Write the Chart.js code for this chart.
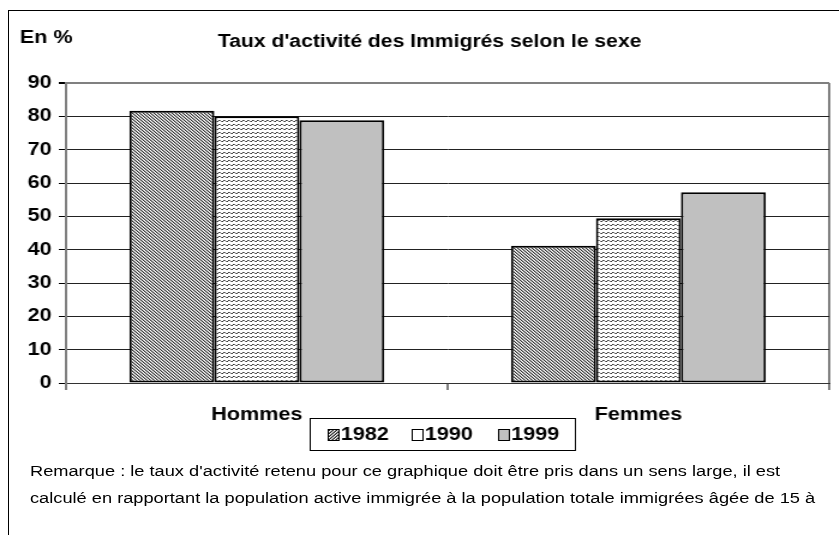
<!DOCTYPE html>
<html>
<head>
<meta charset="utf-8">
<script src="https://cdn.jsdelivr.net/npm/chart.js@4.4.1/dist/chart.umd.min.js"></script>
<style>
  html, body { margin: 0; padding: 0; background: #fff; }
  body { width: 839px; height: 535px; position: relative; overflow: hidden; font-family: "Liberation Sans", Arial, sans-serif; }
  #frame { position: absolute; left: 8px; top: 10px; width: 900px; height: 600px; border-left: 1px solid #000; border-top: 1px solid #000; }
  /* the source picture is stretched sideways, so the chart is drawn narrow and widened */
  #wrap { position: absolute; left: 0; top: 0; width: 699px; height: 535px; transform: scaleX(1.2); transform-origin: 0 0; }
  .note { position: absolute; left: 30px; font-size: 15.2px; white-space: nowrap; color: #000; transform: scaleX(1.2); transform-origin: 0 0; }
</style>
</head>
<body>
<div id="frame"></div>
<div id="wrap"><canvas id="chart" width="699" height="535"></canvas></div>
<div class="note" style="top: 462px;">Remarque : le taux d'activité retenu pour ce graphique doit être pris dans un sens large, il est</div>
<div class="note" style="top: 489px;">calculé en rapportant la population active immigrée à la population totale immigrées âgée de 15 à</div>
<script>
const categories = ['Hommes', 'Femmes'];
const years = ['1982', '1990', '1999'];
const values1982 = [81.7, 41.2];
const values1990 = [80.0, 49.4];
const values1999 = [78.8, 57.2];
const yTicks = [0, 10, 20, 30, 40, 50, 60, 70, 80, 90];

const FONT = '"Liberation Sans", Arial, sans-serif';

// little pixel tiles to mimic the old office hatch fills
const makePattern = (w, h, pixels) => {
  const c = document.createElement('canvas');
  c.width = w;
  c.height = h;
  const g = c.getContext('2d');
  g.fillStyle = '#fff';
  g.fillRect(0, 0, w, h);
  pixels.forEach(([x, y, col]) => {
    g.fillStyle = col;
    g.fillRect(x, y, 1, 1);
  });
  return document.getElementById('chart').getContext('2d').createPattern(c, 'repeat');
};

const hatch1982 = makePattern(3, 3, [
  [0, 0, '#333'], [1, 0, '#aaa'],
  [1, 1, '#333'], [2, 1, '#aaa'],
  [2, 2, '#333'], [0, 2, '#aaa'],
]);
const hatch1990 = makePattern(4, 4, [
  [2, 0, '#333'], [3, 0, '#777'],
  [0, 1, '#777'], [1, 1, '#333'],
]);
const hatchLegend = makePattern(3, 3, [
  [2, 0, '#222'], [1, 0, '#888'],
  [1, 1, '#222'], [0, 1, '#888'],
  [0, 2, '#222'], [2, 2, '#888'],
]);
const fills = [hatch1982, hatch1990, '#c0c0c0'];
const legendFills = [hatchLegend, '#fff', '#c0c0c0'];

const legendBox = {
  id: 'legendBox',
  afterDraw(chart) {
    const ctx = chart.ctx;
    ctx.save();
    ctx.strokeStyle = '#000';
    ctx.lineWidth = 1;
    ctx.strokeRect(258.5, 418.5, 221, 32);
    ctx.font = 'bold 18px ' + FONT;
    ctx.textBaseline = 'middle';
    const xs = [273, 343, 415];
    chart.data.datasets.forEach((ds, i) => {
      ctx.fillStyle = legendFills[i];
      ctx.fillRect(xs[i], 429, 9, 11);
      ctx.strokeStyle = '#000';
      ctx.strokeRect(xs[i] + 0.5, 429.5, 9, 11);
      ctx.fillStyle = '#000';
      ctx.fillText(ds.label, xs[i] + 11, 435);
    });
    ctx.restore();
  }
};

const titles = {
  id: 'titles',
  afterDraw(chart) {
    const ctx = chart.ctx;
    ctx.save();
    ctx.fillStyle = '#000';
    ctx.font = 'bold 18px ' + FONT;
    ctx.textBaseline = 'middle';
    ctx.fillText('En %', 16.5, 38);
    ctx.font = 'bold 17.6px ' + FONT;
    ctx.textAlign = 'center';
    ctx.fillText("Taux d'activité des Immigrés selon le sexe", 358, 42);
    ctx.restore();
  }
};

const ctx = document.getElementById('chart').getContext('2d');

// eslint-disable-next-line no-undef
new Chart(ctx, {
  type: 'bar',
  data: {
    labels: categories,
    datasets: [
      { label: years[0], data: values1982, backgroundColor: fills[0] },
      { label: years[1], data: values1990, backgroundColor: fills[1] },
      { label: years[2], data: values1999, backgroundColor: fills[2] },
    ].map(ds => Object.assign(ds, {
      borderColor: '#000',
      borderWidth: 2,
      borderSkipped: false,
      categoryPercentage: 0.668,
      barPercentage: 1,
    })),
  },
  options: {
    responsive: false,
    animation: false,
    layout: { padding: { top: 83, right: 8, bottom: 112, left: 0 } },
    plugins: { legend: { display: false }, title: { display: false }, tooltip: { enabled: false } },
    scales: {
      x: {
        grid: {
          offset: true,
          lineWidth: 2,
          color: c => (c.index === 1 ? 'rgba(0,0,0,0)' : '#808080'),
          tickColor: '#000',
          tickLength: 7,
          tickWidth: 1,
        },
        border: { display: true, color: '#333', width: 1 },
        ticks: { color: '#000', font: { family: FONT, size: 18, weight: 'bold' }, padding: 14 },
        afterFit: s => { s.height = 40; },
      },
      y: {
        min: 0,
        max: 90,
        afterBuildTicks: s => { s.ticks = yTicks.map(v => ({ value: v })); },
        grid: {
          color: c => (c.tick && c.tick.value === 90 ? '#808080' : '#222'),
          lineWidth: c => (c.tick && c.tick.value === 90 ? 2 : 1),
          tickColor: '#000',
          tickLength: 6,
        },
        border: { display: true, color: '#808080', width: 2 },
        ticks: { color: '#000', font: { family: FONT, size: 18, weight: 'bold' }, padding: 6 },
        afterFit: s => { s.width = 55; },
      },
    },
  },
  plugins: [legendBox, titles],
});
</script>
</body>
</html>
